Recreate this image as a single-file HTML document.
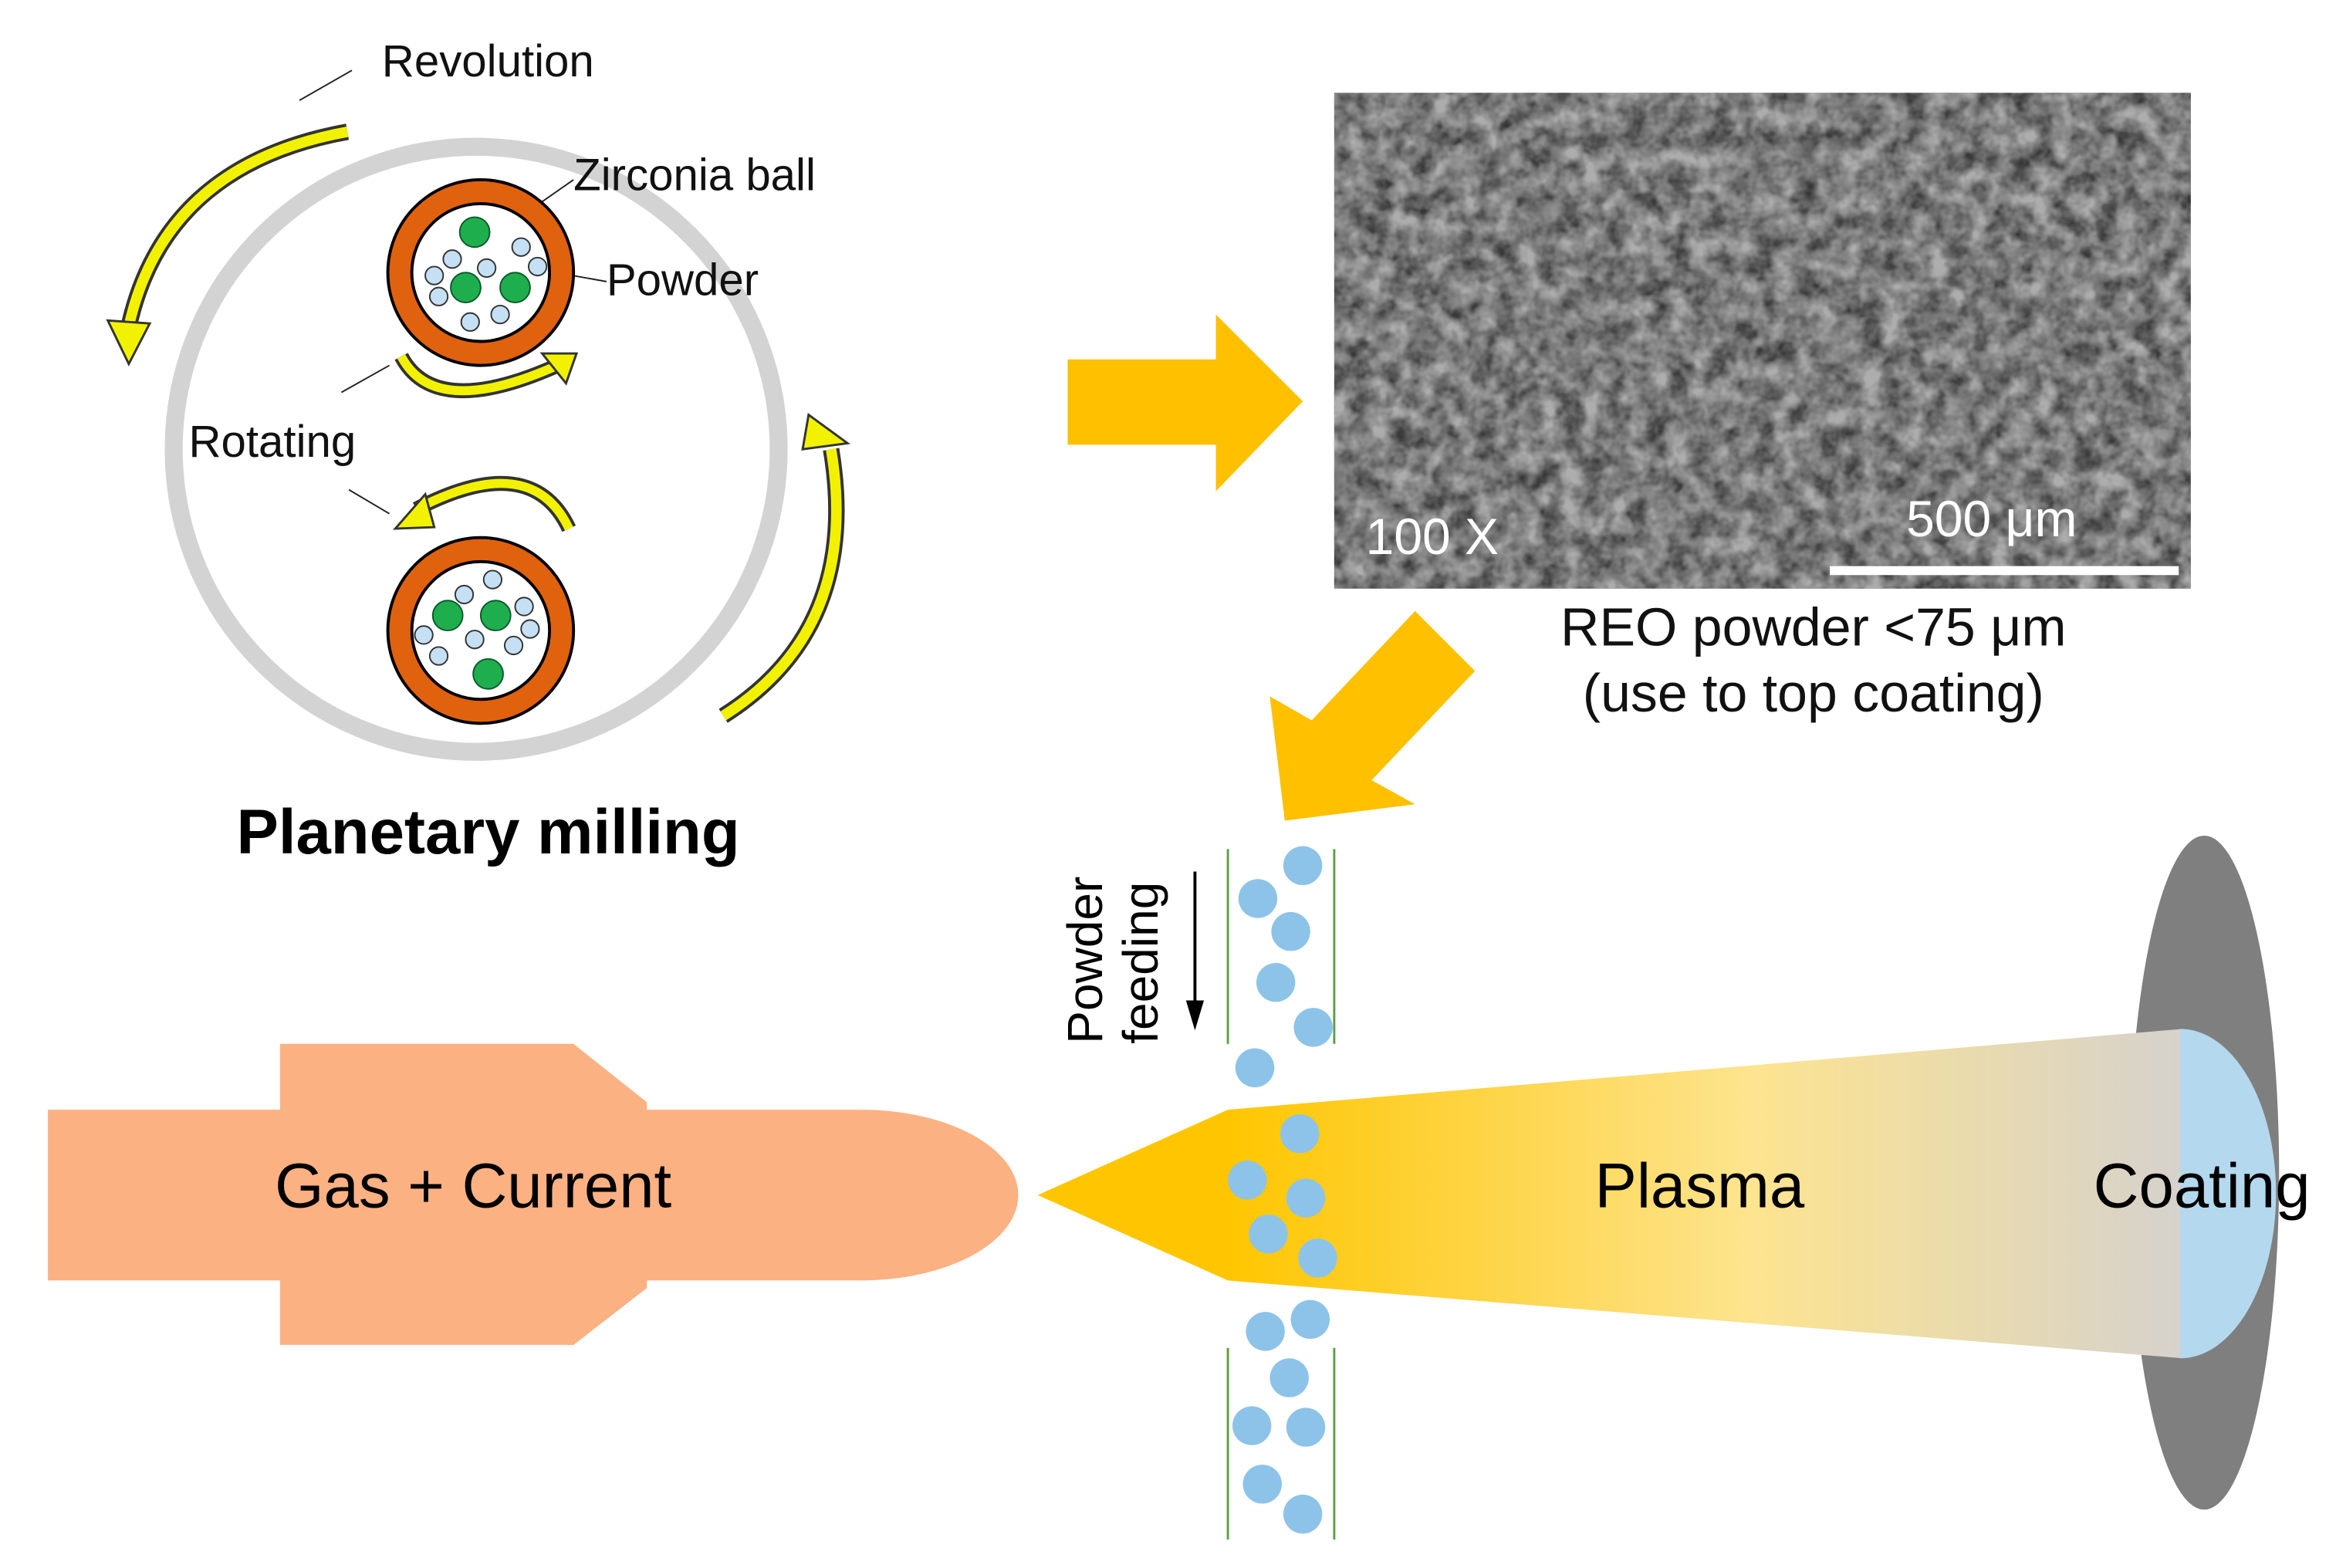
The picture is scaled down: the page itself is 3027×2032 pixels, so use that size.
<!DOCTYPE html>
<html><head><meta charset="utf-8"><style>
html,body{margin:0;padding:0;background:#fff}
svg{display:block}
text{font-family:"Liberation Sans",sans-serif}
</style></head><body>
<svg width="3027" height="2032" viewBox="0 0 1560 1047" preserveAspectRatio="none" xmlns="http://www.w3.org/2000/svg">
<defs>
<linearGradient id="pl" x1="820" y1="0" x2="1455" y2="0" gradientUnits="userSpaceOnUse">
<stop offset="0" stop-color="#ffc600"/><stop offset="0.55" stop-color="#fde48f"/><stop offset="1" stop-color="#d6d2cc"/>
</linearGradient>
<filter id="sem" x="0" y="0" width="1" height="1" color-interpolation-filters="sRGB">
<feTurbulence type="fractalNoise" baseFrequency="0.07" numOctaves="3" seed="4"/>
<feColorMatrix type="matrix" values="0 0 0 0 0.68  0 0 0 0 0.68  0 0 0 0 0.68  1.4 1.4 0 0 -0.95"/>
<feComposite in2="SourceGraphic" operator="in"/>
</filter>
<filter id="sem2" x="0" y="0" width="1" height="1" color-interpolation-filters="sRGB">
<feTurbulence type="fractalNoise" baseFrequency="0.15" numOctaves="2" seed="9"/>
<feColorMatrix type="matrix" values="0 0 0 0 0.22  0 0 0 0 0.22  0 0 0 0 0.22  1.4 1.4 0 0 -0.95"/>
<feComposite in2="SourceGraphic" operator="in"/>
</filter>
</defs>

<circle cx="318" cy="300" r="202" fill="none" stroke="#d3d3d3" stroke-width="12"/>
<g stroke="#222" stroke-width="1">
<line x1="200" y1="67" x2="235" y2="47"/>
<line x1="228" y1="262" x2="260" y2="244"/>
<line x1="233" y1="327" x2="260" y2="343"/>
<line x1="333" y1="155" x2="383" y2="120"/>
<line x1="360" y1="180" x2="405" y2="188"/>
</g>
<g>
<circle cx="321" cy="182" r="62" fill="#e0620e" stroke="#000" stroke-width="2"/>
<circle cx="321" cy="182" r="46" fill="#fff" stroke="#000" stroke-width="2"/>
<circle cx="321" cy="421" r="62" fill="#e0620e" stroke="#000" stroke-width="2"/>
<circle cx="321" cy="421" r="46" fill="#fff" stroke="#000" stroke-width="2"/>
</g>
<g fill="#1fae4e" stroke="#0a5a2a" stroke-width="1">
<circle cx="317" cy="155" r="10"/><circle cx="311" cy="192" r="10"/><circle cx="344" cy="192" r="10"/>
<circle cx="299" cy="411" r="10"/><circle cx="331" cy="411" r="10"/><circle cx="326" cy="450" r="10"/>
</g>
<g fill="#c5e0f4" stroke="#333" stroke-width="1">
<circle cx="302" cy="173" r="6"/><circle cx="325" cy="179" r="6"/><circle cx="348" cy="165" r="6"/><circle cx="290" cy="184" r="6"/><circle cx="293" cy="198" r="6"/><circle cx="314" cy="215" r="6"/><circle cx="334" cy="210" r="6"/><circle cx="359" cy="178" r="6"/>
<circle cx="310" cy="397" r="6"/><circle cx="329" cy="387" r="6"/><circle cx="350" cy="405" r="6"/><circle cx="354" cy="420" r="6"/><circle cx="283" cy="424" r="6"/><circle cx="317" cy="427" r="6"/><circle cx="293" cy="438" r="6"/><circle cx="343" cy="431" r="6"/>
</g>
<g fill="none" stroke-linecap="butt">
<path d="M232,88 Q110,110 86,218" stroke="#333" stroke-width="11"/>
<path d="M232,88 Q110,110 86,218" stroke="#f2f200" stroke-width="7"/>
<path d="M483,478 Q575,420 555,300" stroke="#333" stroke-width="11"/>
<path d="M483,478 Q575,420 555,300" stroke="#f2f200" stroke-width="7"/>
<path d="M268,238 Q290,280 370,245" stroke="#333" stroke-width="10"/>
<path d="M268,238 Q290,280 370,245" stroke="#f2f200" stroke-width="6"/>
<path d="M380,353 Q355,300 278,340" stroke="#333" stroke-width="10"/>
<path d="M380,353 Q355,300 278,340" stroke="#f2f200" stroke-width="6"/>
</g>
<g fill="#f2f200" stroke="#333" stroke-width="1.5">
<polygon points="72,214 100,216 86,243"/>
<polygon points="536,300 566,296 540,277"/>
<polygon points="362,236 378,256 385,236"/>
<polygon points="284,330 290,352 264,353"/>
</g>
<text x="255" y="51" font-size="30" fill="#111">Revolution</text>
<text x="383" y="127" font-size="30" fill="#111">Zirconia ball</text>
<text x="405" y="197" font-size="30" fill="#111">Powder</text>
<text x="126" y="305" font-size="30" fill="#111">Rotating</text>
<text x="326" y="570" font-size="42" font-weight="bold" text-anchor="middle" fill="#000">Planetary milling</text>

<polygon points="713,240 812,240 812,210 870,268 812,328 812,297 713,297" fill="#ffc000"/>

<rect x="891" y="62" width="572" height="331" fill="#666"/>
<rect x="891" y="62" width="572" height="331" fill="#000" filter="url(#sem2)"/>
<rect x="891" y="62" width="572" height="331" fill="#000" filter="url(#sem)"/>
<text x="912" y="370" font-size="34" fill="#fff">100 X</text>
<text x="1273" y="358" font-size="34" fill="#fff">500 μm</text>
<rect x="1222" y="378" width="233" height="6" fill="#fff"/>
<text x="1211" y="431" font-size="36" text-anchor="middle" fill="#111">REO powder &lt;75 μm</text>
<text x="1211" y="475" font-size="36" text-anchor="middle" fill="#111">(use to top coating)</text>

<polygon points="945,408 985,448 916,521 945,537 858,548 848,465 876,481" fill="#ffc000"/>

<path d="M32,741 L187,741 L187,697 L383,697 L432,736 L432,741 L575,741 A105,57 0 0 1 575,855 L432,855 L432,860 L383,898 L187,898 L187,855 L32,855 Z" fill="#fbb182"/>
<text x="316" y="806" font-size="42" text-anchor="middle" fill="#000">Gas + Current</text>

<ellipse cx="1472" cy="783" rx="50" ry="225" fill="#7f7f7f"/>
<polygon points="693,798 820,741 1458,687 1458,907 820,855" fill="url(#pl)"/>
<path d="M1456,687 A64,110 0 0 1 1456,907 Z" fill="#b4d8ee"/>
<text x="1135" y="806" font-size="42" text-anchor="middle" fill="#000">Plasma</text>
<text x="1398" y="806" font-size="42" fill="#000">Coating</text>

<g stroke="#5aa040" stroke-width="1.5">
<line x1="820" y1="567" x2="820" y2="697"/><line x1="891" y1="567" x2="891" y2="697"/>
<line x1="820" y1="900" x2="820" y2="1028"/><line x1="891" y1="900" x2="891" y2="1028"/>
</g>
<g fill="#8dc3e8">
<circle cx="870" cy="578" r="13"/><circle cx="840" cy="600" r="13"/><circle cx="862" cy="622" r="13"/><circle cx="852" cy="656" r="13"/><circle cx="877" cy="686" r="13"/><circle cx="838" cy="713" r="13"/>
<circle cx="868" cy="757" r="13"/><circle cx="833" cy="788" r="13"/><circle cx="872" cy="800" r="13"/><circle cx="847" cy="824" r="13"/><circle cx="880" cy="840" r="13"/>
<circle cx="875" cy="881" r="13"/><circle cx="845" cy="889" r="13"/><circle cx="861" cy="920" r="13"/><circle cx="836" cy="952" r="13"/><circle cx="872" cy="953" r="13"/><circle cx="843" cy="991" r="13"/><circle cx="870" cy="1011" r="13"/>
</g>
<text transform="translate(736,697) rotate(-90)" font-size="33" fill="#000">Powder</text>
<text transform="translate(773,697) rotate(-90)" font-size="33" fill="#000">feeding</text>
<line x1="798" y1="582" x2="798" y2="672" stroke="#000" stroke-width="2"/>
<polygon points="792,668 804,668 798,688" fill="#000"/>
</svg>
</body></html>
